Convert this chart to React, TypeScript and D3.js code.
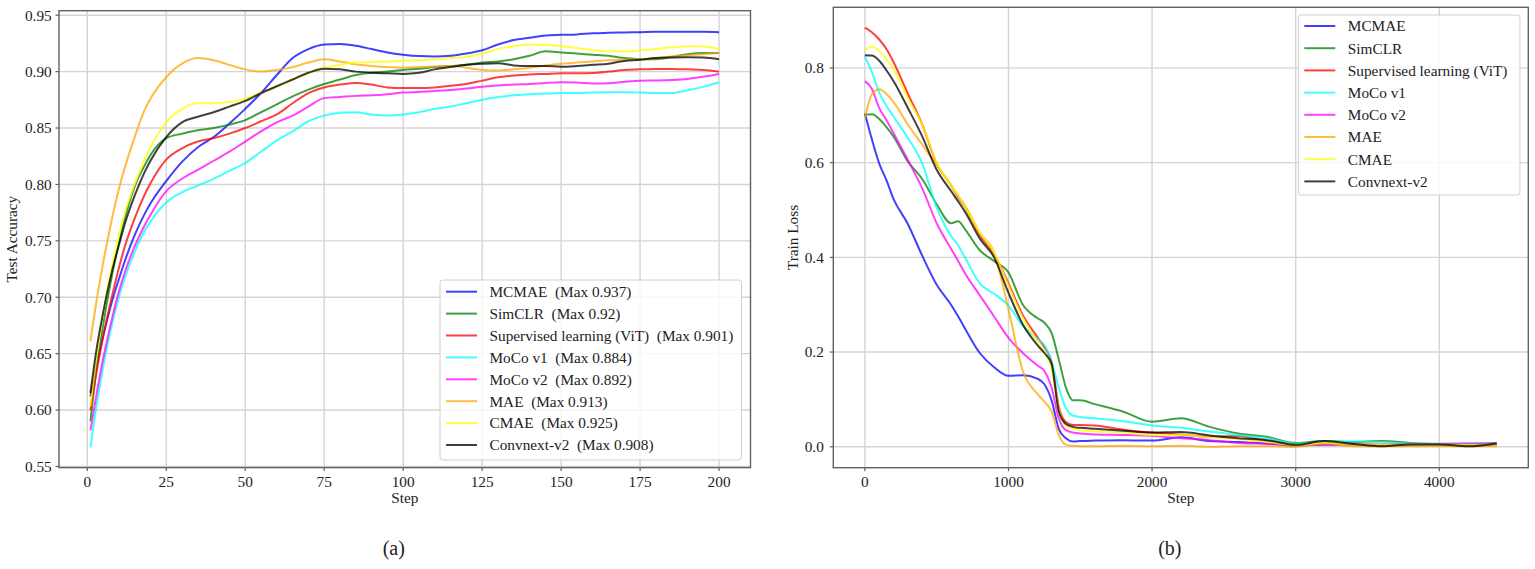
import * as d3 from "d3";
import React from "react";

const methods = ["MCMAE", "SimCLR", "Supervised learning (ViT)", "MoCo v1", "MoCo v2", "MAE", "CMAE", "Convnext-v2"];
const maxAcc = ["0.937", "0.92", "0.901", "0.884", "0.892", "0.913", "0.925", "0.908"];
const colors = ["blue", "green", "red", "cyan", "magenta", "orange", "yellow", "black"];

// (a) test accuracy
const accSteps = [1, 3, 5, 8, 10, 12, 15, 18, 20, 25, 30, 35, 40, 45, 50, 55, 60, 65, 70, 75, 80, 85, 90, 95, 100,
  105, 110, 115, 120, 125, 130, 135, 140, 145, 150, 155, 160, 165, 170, 175, 180, 185, 190, 195, 200];

const accMCMAE = [0.612, 0.640, 0.665, 0.698, 0.716, 0.733, 0.755, 0.773, 0.783, 0.803, 0.820, 0.833, 0.842, 0.854, 0.867,
  0.881, 0.897, 0.912, 0.920, 0.924, 0.9245, 0.923, 0.920, 0.917, 0.915, 0.9138, 0.9135, 0.914, 0.916, 0.919, 0.924,
  0.928, 0.930, 0.932, 0.9326, 0.933, 0.934, 0.9344, 0.9347, 0.935, 0.9353, 0.9353, 0.9353, 0.9353, 0.935];
const accSimCLR = [0.590, 0.638, 0.675, 0.722, 0.748, 0.771, 0.798, 0.816, 0.826, 0.841, 0.845, 0.848, 0.850, 0.853, 0.857,
  0.864, 0.871, 0.878, 0.884, 0.889, 0.893, 0.897, 0.899, 0.900, 0.9015, 0.9025, 0.904, 0.905, 0.906, 0.908, 0.909,
  0.911, 0.914, 0.918, 0.917, 0.916, 0.915, 0.914, 0.912, 0.911, 0.911, 0.913, 0.9155, 0.9165, 0.9165];
const accViT = [0.600, 0.635, 0.665, 0.703, 0.726, 0.746, 0.770, 0.790, 0.801, 0.822, 0.832, 0.838, 0.841, 0.845, 0.850,
  0.856, 0.862, 0.872, 0.881, 0.886, 0.8885, 0.890, 0.8885, 0.886, 0.8855, 0.8855, 0.886, 0.8875, 0.889, 0.892, 0.895,
  0.8965, 0.8975, 0.898, 0.8985, 0.8985, 0.8988, 0.900, 0.9015, 0.902, 0.9024, 0.9024, 0.902, 0.9015, 0.900];
const accMoCo1 = [0.567, 0.605, 0.638, 0.678, 0.700, 0.718, 0.740, 0.758, 0.767, 0.784, 0.793, 0.799, 0.805, 0.812, 0.819,
  0.829, 0.839, 0.847, 0.856, 0.861, 0.8635, 0.864, 0.862, 0.861, 0.862, 0.864, 0.867, 0.869, 0.872, 0.875, 0.8775,
  0.879, 0.880, 0.8805, 0.881, 0.881, 0.8815, 0.8817, 0.8817, 0.8815, 0.881, 0.881, 0.8835, 0.8865, 0.8906];
const accMoCo2 = [0.582, 0.615, 0.645, 0.683, 0.705, 0.723, 0.745, 0.763, 0.773, 0.794, 0.805, 0.813, 0.821, 0.829, 0.838,
  0.847, 0.855, 0.861, 0.869, 0.8765, 0.8775, 0.8785, 0.879, 0.880, 0.8815, 0.882, 0.8828, 0.8838, 0.885, 0.8865, 0.8876,
  0.8885, 0.889, 0.890, 0.8906, 0.8903, 0.8895, 0.8897, 0.891, 0.892, 0.8922, 0.8926, 0.8935, 0.8955, 0.898];
const accMAE = [0.661, 0.698, 0.730, 0.772, 0.796, 0.816, 0.842, 0.865, 0.876, 0.895, 0.907, 0.912, 0.910, 0.906, 0.902,
  0.900, 0.9015, 0.904, 0.908, 0.911, 0.909, 0.9065, 0.905, 0.904, 0.9035, 0.904, 0.9045, 0.905, 0.9035, 0.9015, 0.901,
  0.902, 0.9035, 0.9055, 0.907, 0.908, 0.909, 0.910, 0.9105, 0.911, 0.912, 0.9135, 0.9145, 0.9155, 0.9165];
const accCMAE = [0.603, 0.648, 0.685, 0.730, 0.755, 0.776, 0.800, 0.821, 0.833, 0.855, 0.867, 0.872, 0.872, 0.873, 0.876,
  0.881, 0.887, 0.893, 0.899, 0.9035, 0.906, 0.908, 0.9085, 0.909, 0.9095, 0.910, 0.911, 0.912, 0.913, 0.916, 0.920,
  0.9225, 0.924, 0.9235, 0.9225, 0.921, 0.919, 0.918, 0.918, 0.9188, 0.920, 0.9215, 0.9224, 0.9222, 0.920];
const accConvnext = [0.615, 0.655, 0.686, 0.725, 0.746, 0.766, 0.790, 0.810, 0.821, 0.842, 0.855, 0.860, 0.864, 0.869, 0.874,
  0.881, 0.887, 0.893, 0.899, 0.9026, 0.902, 0.900, 0.899, 0.8985, 0.898, 0.899, 0.902, 0.904, 0.906, 0.907, 0.9075,
  0.9055, 0.905, 0.905, 0.9044, 0.905, 0.906, 0.907, 0.9095, 0.9105, 0.912, 0.9125, 0.9127, 0.9125, 0.911];

// (b) train loss
const lossSteps = [0, 50, 100, 150, 200, 300, 400, 500, 600, 650, 700, 800, 900, 1000, 1100, 1200, 1250, 1300, 1350, 1400,
  1450, 1500, 1600, 1800, 2000, 2200, 2400, 2600, 2800, 3000, 3200, 3400, 3600, 3800, 4000, 4200, 4400];

const lossMCMAE = [0.704, 0.648, 0.598, 0.563, 0.523, 0.470, 0.403, 0.342, 0.300, 0.275, 0.248, 0.198, 0.168, 0.150, 0.151,
  0.144, 0.132, 0.098, 0.038, 0.018, 0.011, 0.012, 0.013, 0.014, 0.013, 0.020, 0.012, 0.010, 0.007, 0.002, 0.005, 0.004,
  0.003, 0.003, 0.004, 0.003, 0.004];
const lossSimCLR = [0.701, 0.702, 0.692, 0.675, 0.655, 0.602, 0.565, 0.512, 0.472, 0.476, 0.458, 0.415, 0.392, 0.368, 0.300,
  0.272, 0.262, 0.240, 0.185, 0.125, 0.098, 0.098, 0.090, 0.074, 0.053, 0.060, 0.042, 0.028, 0.021, 0.008, 0.012, 0.010,
  0.012, 0.008, 0.006, 0.006, 0.008];
const lossViT = [0.885, 0.875, 0.860, 0.840, 0.812, 0.745, 0.680, 0.598, 0.552, 0.527, 0.505, 0.448, 0.407, 0.345, 0.278,
  0.232, 0.210, 0.180, 0.085, 0.052, 0.046, 0.046, 0.045, 0.036, 0.030, 0.026, 0.021, 0.023, 0.012, 0.004, 0.008, 0.006,
  0.005, 0.006, 0.005, 0.005, 0.006];
const lossMoCo1 = [0.824, 0.790, 0.748, 0.720, 0.697, 0.652, 0.598, 0.505, 0.445, 0.425, 0.398, 0.345, 0.323, 0.298, 0.255,
  0.228, 0.215, 0.180, 0.125, 0.082, 0.066, 0.063, 0.060, 0.054, 0.045, 0.040, 0.032, 0.025, 0.018, 0.007, 0.010, 0.011,
  0.010, 0.007, 0.007, 0.007, 0.007];
const lossMoCo2 = [0.772, 0.755, 0.715, 0.690, 0.662, 0.605, 0.545, 0.472, 0.418, 0.392, 0.365, 0.320, 0.275, 0.230, 0.198,
  0.172, 0.160, 0.125, 0.060, 0.035, 0.030, 0.028, 0.026, 0.025, 0.023, 0.018, 0.014, 0.008, 0.006, 0.003, 0.004, 0.004,
  0.004, 0.005, 0.006, 0.007, 0.007];
const lossMAE = [0.694, 0.745, 0.755, 0.745, 0.728, 0.680, 0.638, 0.595, 0.552, 0.530, 0.508, 0.452, 0.410, 0.290, 0.160,
  0.112, 0.095, 0.075, 0.025, 0.004, 0.002, 0.001, 0.001, 0.002, 0.001, 0.002, 0.000, 0.001, 0.001, 0.000, 0.007, 0.001,
  0.001, 0.001, 0.001, 0.001, 0.001];
const lossCMAE = [0.838, 0.845, 0.835, 0.818, 0.798, 0.735, 0.680, 0.600, 0.552, 0.530, 0.505, 0.452, 0.410, 0.340, 0.272,
  0.222, 0.200, 0.165, 0.080, 0.045, 0.038, 0.035, 0.033, 0.030, 0.025, 0.025, 0.020, 0.016, 0.010, 0.004, 0.009, 0.005,
  0.005, 0.004, 0.004, 0.004, 0.004];
const lossConvnext = [0.827, 0.826, 0.815, 0.795, 0.772, 0.715, 0.655, 0.585, 0.540, 0.518, 0.495, 0.440, 0.400, 0.325, 0.258,
  0.215, 0.198, 0.175, 0.075, 0.048, 0.042, 0.040, 0.038, 0.034, 0.030, 0.031, 0.024, 0.018, 0.014, 0.004, 0.012, 0.006,
  0.001, 0.005, 0.005, 0.001, 0.007];

const accSeries = [accMCMAE, accSimCLR, accViT, accMoCo1, accMoCo2, accMAE, accCMAE, accConvnext];
const lossSeries = [lossMCMAE, lossSimCLR, lossViT, lossMoCo1, lossMoCo2, lossMAE, lossCMAE, lossConvnext];

const accXTicks = [0, 25, 50, 75, 100, 125, 150, 175, 200];
const accYTicks = [0.55, 0.6, 0.65, 0.7, 0.75, 0.8, 0.85, 0.9, 0.95];
const lossXTicks = [0, 1000, 2000, 3000, 4000];
const lossYTicks = [0.0, 0.2, 0.4, 0.6, 0.8];

const font = "'Liberation Serif', 'Times New Roman', serif";
const fs = 15.3;

function Panel(props) {
  const { box, xDomain, yDomain, steps, series, xTicks, yTicks, yFmt, yLabel, yLabelX, tickGap, legend, caption } = props;
  const x = d3.scaleLinear().domain(xDomain).range([box.left, box.right]);
  const y = d3.scaleLinear().domain(yDomain).range([box.bottom, box.top]);

  const line = d3.line()
    .x((d) => x(d[0]))
    .y((d) => y(d[1]))
    .curve(d3.curveMonotoneX);

  const paths = series.map((vals, i) => {
    const pts = steps.map((s, j) => [s, vals[j]]);
    return <path key={i} d={line(pts)} fill="none" stroke={colors[i]} strokeOpacity={0.75} strokeWidth={2} strokeLinejoin="round" />;
  });

  const cx = (box.left + box.right) / 2;
  const cy = (box.top + box.bottom) / 2;

  return (
    <g fontFamily={font} fill="#222">
      {/* grid */}
      {xTicks.map((t) => (
        <line key={"gx" + t} x1={x(t)} x2={x(t)} y1={box.top} y2={box.bottom} stroke="#d4d4d4" strokeWidth={1.4} />
      ))}
      {yTicks.map((t) => (
        <line key={"gy" + t} x1={box.left} x2={box.right} y1={y(t)} y2={y(t)} stroke="#d4d4d4" strokeWidth={1.4} />
      ))}
      <g clipPath={"url(#clip-" + caption + ")"}>{paths}</g>
      <clipPath id={"clip-" + caption}>
        <rect x={box.left} y={box.top} width={box.right - box.left} height={box.bottom - box.top} />
      </clipPath>
      {/* frame */}
      <rect x={box.left} y={box.top} width={box.right - box.left} height={box.bottom - box.top} fill="none" stroke="#606060" strokeWidth={1.4} />
      {/* ticks */}
      {xTicks.map((t) => (
        <g key={"tx" + t}>
          <line x1={x(t)} x2={x(t)} y1={box.bottom} y2={box.bottom + 3.5} stroke="#606060" strokeWidth={1.2} />
          <text x={x(t)} y={box.bottom + 19} textAnchor="middle" fontSize={fs}>{t}</text>
        </g>
      ))}
      {yTicks.map((t) => (
        <g key={"ty" + t}>
          <line x1={box.left - 3.5} x2={box.left} y1={y(t)} y2={y(t)} stroke="#606060" strokeWidth={1.2} />
          <text x={box.left - tickGap} y={y(t)} dy="0.35em" textAnchor="end" fontSize={fs}>{yFmt(t)}</text>
        </g>
      ))}
      <text x={cx} y={box.bottom + 35} textAnchor="middle" fontSize={fs}>Step</text>
      <text transform={`translate(${yLabelX},${cy}) rotate(-90)`} textAnchor="middle" fontSize={fs}>{yLabel}</text>
      <text x={cx - 11} y={555} textAnchor="middle" fontSize={20}>({caption})</text>
      {/* legend */}
      <g>
        <rect x={legend.x} y={legend.y} width={legend.w} height={legend.h} rx={3} fill="white" fillOpacity={0.8} stroke="#d0d0d0" strokeWidth={1} />
        {legend.labels.map((lab, i) => {
          const ry = legend.y + legend.first + i * legend.step;
          return (
            <g key={"lg" + i}>
              <line x1={legend.x + 6} x2={legend.x + 37} y1={ry} y2={ry} stroke={colors[i]} strokeOpacity={0.75} strokeWidth={2} />
              <text x={legend.x + 49.5} y={ry} dy="0.35em" fontSize={fs} style={{ whiteSpace: "pre" }}>{lab}</text>
            </g>
          );
        })}
      </g>
    </g>
  );
}

export default function App() {
  const accLabels = methods.map((m, i) => `${m}  (Max ${maxAcc[i]})`);
  return (
    <svg width={1535} height={569} style={{ position: "absolute", left: 0, top: 0, background: "white" }}>
      <Panel
        box={{ left: 59, right: 750.5, top: 10.7, bottom: 467.6 }}
        xDomain={[-8.95, 209.95]}
        yDomain={[0.549, 0.954]}
        steps={accSteps}
        series={accSeries}
        xTicks={accXTicks}
        yTicks={accYTicks}
        yFmt={(t) => t.toFixed(2)}
        yLabel="Test Accuracy"
        yLabelX={17}
        tickGap={7.3}
        caption="a"
        legend={{ x: 440, y: 280, w: 301.5, h: 180, first: 11.7, step: 21.9, labels: accLabels }}
      />
      <Panel
        box={{ left: 833.3, right: 1528.3, top: 7.3, bottom: 467.7 }}
        xDomain={[-220, 4620]}
        yDomain={[-0.0442, 0.928]}
        steps={lossSteps}
        series={lossSeries}
        xTicks={lossXTicks}
        yTicks={lossYTicks}
        yFmt={(t) => t.toFixed(1)}
        yLabel="Train Loss"
        yLabelX={798}
        tickGap={9.5}
        caption="b"
        legend={{ x: 1298.3, y: 15, w: 221.7, h: 180, first: 11, step: 22.2, labels: methods }}
      />
    </svg>
  );
}
